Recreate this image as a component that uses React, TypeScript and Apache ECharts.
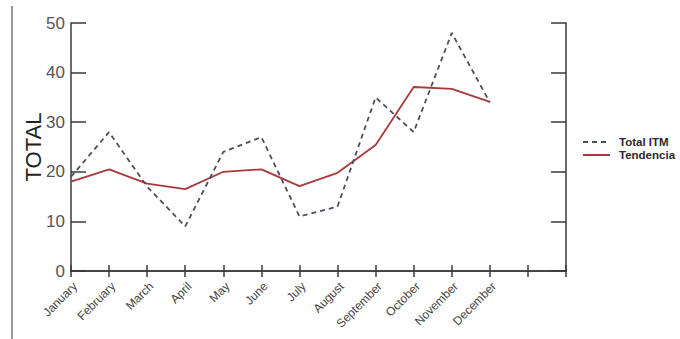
import React, { useEffect, useRef } from "react";
import * as echarts from "echarts";

const months = [
  "January", "February", "March", "April", "May", "June",
  "July", "August", "September", "October", "November", "December", "", "",
];
const totalITM = [19, 28, 17, 9, 24, 27, 11, 13, 35, 28, 48, 34];
const tendencia = [18, 20.5, 17.6, 16.5, 20, 20.5, 17.1, 19.8, 25.4, 37.1, 36.7, 34.1];
const yTicks = [0, 10, 20, 30, 40, 50];

export default function App() {
  const ref = useRef<HTMLDivElement>(null);
  useEffect(() => {
    if (!ref.current) return;
    const chart = echarts.init(ref.current, undefined, { renderer: "svg" });
    const axisColor = "#3a3a3a";
    const labelColor = "#555";
    chart.setOption({
      animation: false,
      backgroundColor: "#fff",
      grid: { left: 71, top: 23, width: 495, height: 248 },
      legend: {
        orient: "vertical",
        left: 577,
        top: 131,
        itemWidth: 27,
        itemHeight: 14,
        itemGap: 1,
        itemStyle: { opacity: 0 },
        textStyle: {
          fontFamily: "Liberation Sans, Arial, sans-serif",
          fontSize: 11.5,
          fontWeight: "bold",
          color: "#2a2a2a",
          padding: [0, 0, 0, 4],
        },
        data: ["Total ITM", "Tendencia"],
      },
      xAxis: [
        {
          type: "category",
          data: months,
          boundaryGap: false,
          position: "bottom",
          axisLine: { lineStyle: { color: axisColor, width: 1.5 } },
          axisTick: { inside: true, length: 6, interval: 0, lineStyle: { color: axisColor, width: 1.5 } },
          axisLabel: {
            rotate: 45,
            interval: 0,
            margin: 9,
            verticalAlign: "top",
            fontFamily: "Liberation Sans, Arial, sans-serif",
            fontSize: 12,
            color: "#444",
          },
          splitLine: { show: false },
        },
        {
          type: "category",
          data: months,
          boundaryGap: false,
          position: "top",
          axisLine: { lineStyle: { color: axisColor, width: 1.5 } },
          axisTick: { inside: true, length: 6, interval: 0, lineStyle: { color: axisColor, width: 1.5 } },
          axisLabel: { show: false },
          splitLine: { show: false },
        },
      ],
      yAxis: [
        {
          type: "value",
          min: yTicks[0],
          max: yTicks[yTicks.length - 1],
          interval: 10,
          position: "left",
          axisLine: { show: true, lineStyle: { color: axisColor, width: 1.5 } },
          axisTick: { show: true, inside: true, length: 15, lineStyle: { color: axisColor, width: 1.5 } },
          axisLabel: {
            margin: 6,
            fontFamily: "Liberation Sans, Arial, sans-serif",
            fontSize: 17,
            color: labelColor,
          },
          splitLine: { show: false },
        },
        {
          type: "value",
          min: yTicks[0],
          max: yTicks[yTicks.length - 1],
          interval: 10,
          position: "right",
          axisLine: { show: true, lineStyle: { color: axisColor, width: 1.5 } },
          axisTick: { show: true, inside: true, length: 15, lineStyle: { color: axisColor, width: 1.5 } },
          axisLabel: { show: false },
          splitLine: { show: false },
        },
      ],
      series: [
        {
          name: "Total ITM",
          type: "line",
          data: totalITM,
          symbol: "none",
          lineStyle: { color: "#4a505c", width: 1.8, type: [5, 4] },
          itemStyle: { color: "#4a505c" },
          z: 3,
        },
        {
          name: "Tendencia",
          type: "line",
          data: tendencia,
          symbol: "none",
          lineStyle: { color: "#a83a3e", width: 1.8 },
          itemStyle: { color: "#a83a3e" },
          z: 2,
        },
      ],
      graphic: [
        {
          type: "text",
          x: 33,
          y: 147,
          rotation: Math.PI / 2,
          style: {
            text: "TOTAL",
            fontFamily: "Liberation Sans, Arial, sans-serif",
            fontSize: 22,
            fill: "#222",
            align: "center",
            verticalAlign: "middle",
          },
        },
        {
          type: "line",
          shape: { x1: 12, y1: 6, x2: 12, y2: 339 },
          style: { stroke: "#999", lineWidth: 2 },
        },
      ],
    });
    return () => chart.dispose();
  }, []);
  return (
    <div
      ref={ref}
      style={{ position: "fixed", left: 0, top: 0, width: 680, height: 339 }}
    />
  );
}
